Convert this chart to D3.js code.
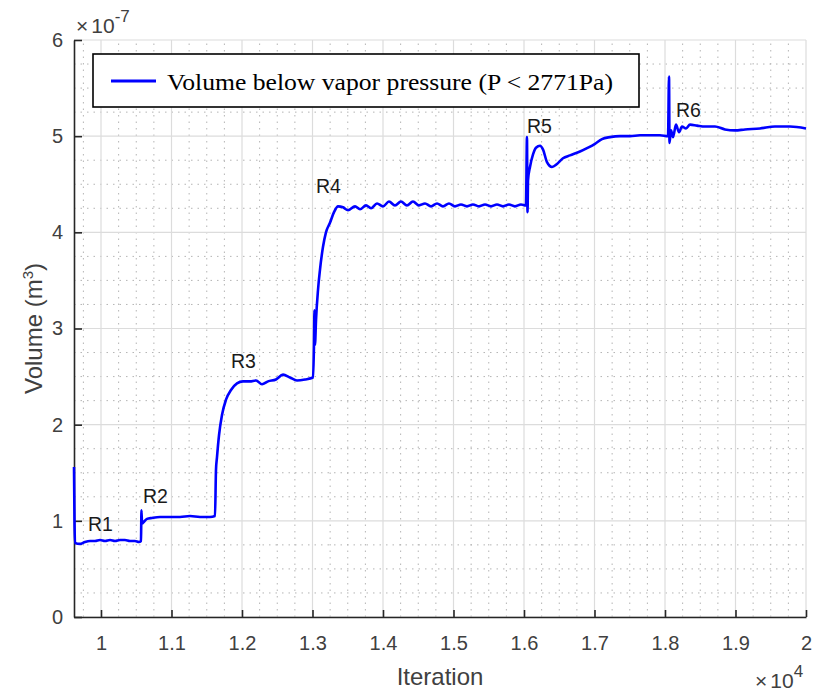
<!DOCTYPE html>
<html>
<head>
<meta charset="utf-8">
<script src="https://cdn.jsdelivr.net/npm/d3@7"></script>
<style>
  body { margin: 0; background: #fff; }
  svg { display: block; }
</style>
</head>
<body>
<div id="chart"></div>
<script>
// iteration count and volume below vapour pressure (units of 1e-7 m^3)
const iterations = [
  9617, 9624, 9631, 9702, 9773, 9844, 9915, 9986, 10057, 10128, 10199, 10270, 10340, 10411, 10482, 10539, 10567,
  10574, 10582, 10610, 10652, 10723, 10837, 10979, 11121, 11262, 11404, 11546, 11617,
  11631, 11645, 11674, 11716, 11773, 11844, 11929, 12014, 12113, 12199, 12284, 12369, 12482, 12582, 12681, 12780, 12894, 13007,
  13021, 13028, 13035, 13050, 13078, 13106, 13149, 13191, 13248, 13305, 13362, 13433, 13504,
  13603, 13674, 13759, 13830, 13915, 14000, 14085, 14170, 14255, 14340, 14425, 14511, 14596, 14681, 14766, 14851,
  14936, 15021, 15106, 15191, 15276, 15362, 15447, 15532, 15617, 15702, 15787, 15872, 15957, 16028,
  16042, 16050, 16057, 16085, 16128, 16170, 16227, 16270, 16326, 16397, 16468, 16553, 16652, 16794, 16908, 17007,
  17106, 17220, 17362, 17504, 17645, 17787, 17929, 18043,
  18057, 18064, 18085, 18114, 18156, 18199, 18241, 18298, 18355, 18454, 18567, 18709, 18851, 18993, 19135, 19347,
  19560, 19773, 20000
];
const volumes = [
  1.56, 1.01, 0.77, 0.76, 0.78, 0.79, 0.79, 0.80, 0.79, 0.80, 0.79, 0.80, 0.80, 0.79, 0.79, 0.78, 0.79,
  1.11, 0.97, 0.99, 1.02, 1.03, 1.04, 1.04, 1.04, 1.05, 1.04, 1.04, 1.05,
  1.53, 1.66, 1.89, 2.10, 2.26, 2.36, 2.43, 2.45, 2.45, 2.46, 2.42, 2.45, 2.47, 2.52, 2.49, 2.46, 2.47, 2.49,
  2.83, 3.19, 2.83, 3.09, 3.40, 3.61, 3.85, 4.00, 4.10, 4.21, 4.27, 4.26, 4.23,
  4.27, 4.24, 4.28, 4.25, 4.30, 4.27, 4.32, 4.28, 4.32, 4.28, 4.32, 4.28, 4.30, 4.27, 4.30, 4.27,
  4.30, 4.27, 4.29, 4.27, 4.29, 4.27, 4.29, 4.27, 4.29, 4.27, 4.29, 4.27, 4.29, 4.28,
  4.99, 4.21, 4.54, 4.68, 4.81, 4.88, 4.90, 4.86, 4.73, 4.68, 4.71, 4.77, 4.80, 4.84, 4.88, 4.92,
  4.97, 4.99, 5.00, 5.00, 5.01, 5.01, 5.01, 5.00,
  5.62, 4.93, 5.06, 4.99, 5.12, 5.04, 5.10, 5.08, 5.12, 5.11, 5.10, 5.10, 5.07, 5.06, 5.07, 5.08,
  5.10, 5.10, 5.08
];

// region labels
const regionNames = ["R1", "R2", "R3", "R4", "R5", "R6"];
const regionIter = [9816, 10596, 11844, 13050, 16042, 18156];
const regionVol = [0.89, 1.19, 2.59, 4.41, 5.03, 5.20];

const xTicks = [10000, 11000, 12000, 13000, 14000, 15000, 16000, 17000, 18000, 19000, 20000];
const yTicks = [0, 1, 2, 3, 4, 5, 6];
const legendLabel = "Volume below vapor pressure (P < 2771Pa)";

const width = 815;
const height = 695;
const margin = { top: 40, right: 9, bottom: 78, left: 74 };

const x = d3.scaleLinear().domain([9617, 20000]).range([margin.left, width - margin.right]);
const y = d3.scaleLinear().domain([0, 6]).range([height - margin.bottom, margin.top]);

const svg = d3.select("#chart").append("svg")
  .attr("width", width)
  .attr("height", height)
  .style("font-family", "'Liberation Sans', Arial, sans-serif");

// minor grid (dotted)
const xMinor = d3.range(9750, 20000, 250).filter((v) => v % 1000 !== 0);
const yMinor = d3.range(0.25, 6, 0.25).filter((v) => v % 1 !== 0);
const grid = svg.append("g");
grid.selectAll(".xminor").data(xMinor).join("line")
  .attr("x1", (d) => x(d)).attr("x2", (d) => x(d))
  .attr("y1", y(0)).attr("y2", y(6))
  .attr("stroke", "#b4b4b4").attr("stroke-width", 1)
  .attr("stroke-dasharray", "1.5,5");
grid.selectAll(".yminor").data(yMinor).join("line")
  .attr("x1", x.range()[0]).attr("x2", x.range()[1])
  .attr("y1", (d) => y(d)).attr("y2", (d) => y(d))
  .attr("stroke", "#b4b4b4").attr("stroke-width", 1)
  .attr("stroke-dasharray", "1.5,5");

// major grid
grid.selectAll(".xmajor").data(xTicks).join("line")
  .attr("x1", (d) => x(d)).attr("x2", (d) => x(d))
  .attr("y1", y(0)).attr("y2", y(6))
  .attr("stroke", "#dcdcdc").attr("stroke-width", 1.2);
grid.selectAll(".ymajor").data(yTicks).join("line")
  .attr("x1", x.range()[0]).attr("x2", x.range()[1])
  .attr("y1", (d) => y(d)).attr("y2", (d) => y(d))
  .attr("stroke", "#dcdcdc").attr("stroke-width", 1.2);

// axes
const xAxis = d3.axisBottom(x).tickValues(xTicks)
  .tickFormat((d) => d3.format("")(d / 10000))
  .tickSizeInner(-7).tickSizeOuter(0).tickPadding(19);
const yAxis = d3.axisLeft(y).tickValues(yTicks)
  .tickFormat(d3.format("d"))
  .tickSizeInner(-8).tickSizeOuter(0).tickPadding(11);

const gx = svg.append("g")
  .attr("transform", `translate(0, ${y(0)})`)
  .call(xAxis);
const gy = svg.append("g")
  .attr("transform", `translate(${x.range()[0]}, 0)`)
  .call(yAxis);
[gx, gy].forEach((g) => {
  g.select(".domain").attr("stroke", "#262626").attr("stroke-width", 1.6);
  g.selectAll(".tick line").attr("stroke", "#262626").attr("stroke-width", 1.6);
  g.selectAll(".tick text")
    .attr("fill", "#404040")
    .style("font-size", "20px")
    .style("font-family", "'Liberation Sans', Arial, sans-serif");
});

// the series
const pts = iterations.map((it, i) => [it, volumes[i]]);
svg.append("path")
  .datum(pts)
  .attr("fill", "none")
  .attr("stroke", "#0000ff")
  .attr("stroke-width", 2.6)
  .attr("stroke-linejoin", "round")
  .attr("d", d3.line().curve(d3.curveMonotoneX).x((d) => x(d[0])).y((d) => y(d[1])));

// region labels
svg.selectAll(".region").data(regionNames).join("text")
  .attr("x", (d, i) => x(regionIter[i]))
  .attr("y", (d, i) => y(regionVol[i]))
  .attr("fill", "#1a1a1a")
  .style("font-size", "19.5px")
  .text((d) => d);

// axis titles
svg.append("text")
  .attr("x", (x.range()[0] + x.range()[1]) / 2)
  .attr("y", 685)
  .attr("text-anchor", "middle")
  .attr("fill", "#404040")
  .style("font-size", "24px")
  .text("Iteration");

const yLab = svg.append("text")
  .attr("transform", `translate(42, ${(y(0) + y(6)) / 2}) rotate(-90)`)
  .attr("text-anchor", "middle")
  .attr("fill", "#404040")
  .style("font-size", "24px");
yLab.append("tspan").text("Volume (m");
yLab.append("tspan").attr("dy", -9).style("font-size", "15px").text("3");
yLab.append("tspan").attr("dy", 9).text(")");

// exponent labels
const e7 = svg.append("text").attr("x", 76).attr("y", 33)
  .attr("fill", "#404040").style("font-size", "21px");
e7.append("tspan").text("\u00d7");
e7.append("tspan").attr("dx", 3).text("10");
e7.append("tspan").attr("dy", -11).style("font-size", "17px").text("-7");

const e4 = svg.append("text").attr("x", 755).attr("y", 688)
  .attr("fill", "#404040").style("font-size", "21px");
e4.append("tspan").text("\u00d7");
e4.append("tspan").attr("dx", 3).text("10");
e4.append("tspan").attr("dy", -11).style("font-size", "17px").text("4");

// legend
const legend = svg.append("g");
legend.append("rect")
  .attr("x", 93).attr("y", 54)
  .attr("width", 546).attr("height", 53)
  .attr("fill", "#fff")
  .attr("stroke", "#000").attr("stroke-width", 1.6);
legend.append("line")
  .attr("x1", 111).attr("x2", 156)
  .attr("y1", 81).attr("y2", 81)
  .attr("stroke", "#0000ff").attr("stroke-width", 3);
legend.append("text")
  .attr("x", 167).attr("y", 90)
  .attr("fill", "#000")
  .style("font-family", "'Liberation Serif', 'Times New Roman', serif")
  .style("font-size", "23px")
  .attr("textLength", 446)
  .attr("lengthAdjust", "spacingAndGlyphs")
  .text(legendLabel);
</script>
</body>
</html>
